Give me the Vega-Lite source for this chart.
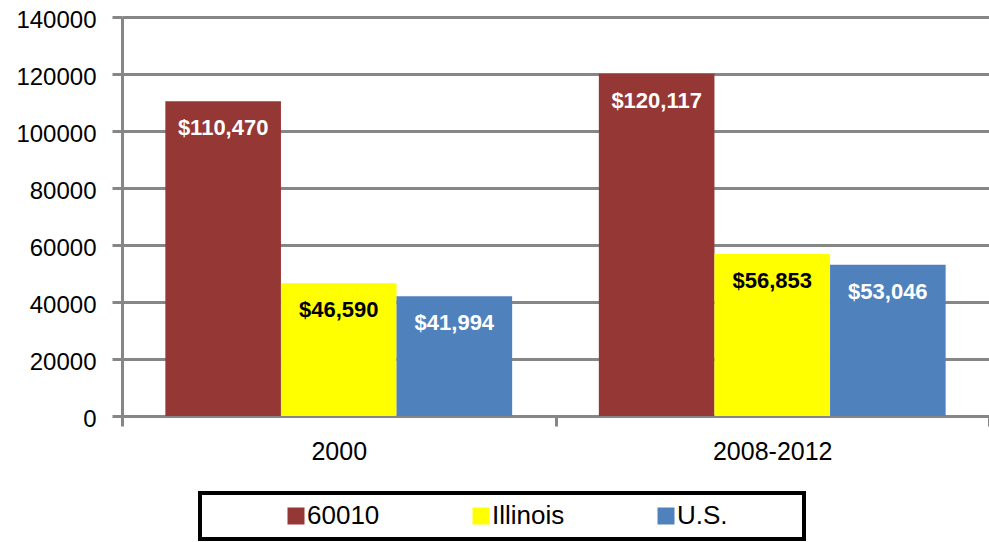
{
  "$schema": "https://vega.github.io/schema/vega-lite/v6.json",
  "width": 867,
  "height": 399,
  "autosize": {"type": "none"},
  "padding": {"left": 122, "top": 17, "right": 0, "bottom": 126},
  "background": "white",
  "config": {"font": "Liberation Sans", "view": {"stroke": null}},
  "data": {
    "values": [
      {"period": "2000", "region": "60010", "income": 110470},
      {"period": "2000", "region": "Illinois", "income": 46590},
      {"period": "2000", "region": "U.S.", "income": 41994},
      {"period": "2008-2012", "region": "60010", "income": 120117},
      {"period": "2008-2012", "region": "Illinois", "income": 56853},
      {"period": "2008-2012", "region": "U.S.", "income": 53046}
    ]
  },
  "encoding": {
    "x": {
      "field": "period",
      "type": "nominal",
      "sort": ["2000", "2008-2012"],
      "scale": {"paddingInner": 0, "paddingOuter": 0},
      "axis": {
        "title": null,
        "labelAngle": 0,
        "labelFontSize": 25,
        "labelColor": "black",
        "labelPadding": 13,
        "tickBand": "extent",
        "tickSize": 10,
        "tickWidth": 3,
        "tickColor": "#868686",
        "domainColor": "#868686",
        "domainWidth": 3,
        "grid": false
      }
    },
    "xOffset": {
      "field": "region",
      "type": "nominal",
      "sort": ["60010", "Illinois", "U.S."],
      "scale": {"paddingInner": 0, "paddingOuter": 0.375}
    },
    "y": {
      "field": "income",
      "type": "quantitative",
      "scale": {"domain": [0, 140000], "nice": false},
      "axis": {
        "title": null,
        "values": [0, 20000, 40000, 60000, 80000, 100000, 120000, 140000],
        "format": "d",
        "labelFontSize": 24,
        "labelColor": "black",
        "labelPadding": 16,
        "labelOffset": 3,
        "tickSize": 10,
        "tickWidth": 3,
        "tickColor": "#868686",
        "gridColor": "#868686",
        "gridWidth": 3,
        "domainColor": "#868686",
        "domainWidth": 3
      }
    }
  },
  "layer": [
    {
      "mark": {"type": "bar"},
      "encoding": {
        "color": {
          "field": "region",
          "type": "nominal",
          "sort": ["60010", "Illinois", "U.S."],
          "scale": {"domain": ["60010", "Illinois", "U.S."], "range": ["#953735", "#FFFF00", "#4F81BD"]},
          "legend": {
            "orient": "none",
            "legendX": 78,
            "legendY": 476,
            "direction": "horizontal",
            "title": "\u00a0",
            "titleOrient": "right",
            "titleFontSize": 1,
            "titlePadding": 66,
            "strokeColor": "black",
            "padding": 10,
            "labelFontSize": 26,
            "labelColor": "black",
            "symbolType": "square",
            "symbolSize": 289,
            "symbolStrokeWidth": 0,
            "symbolOpacity": 1,
            "symbolOffset": 73,
            "labelOffset": -2,
            "columnPadding": 15,
            "encode": {"legend": {"update": {"strokeWidth": {"value": 4}}}}
          }
        }
      }
    },
    {
      "mark": {"type": "text", "dy": 27, "baseline": "middle", "fontWeight": "bold", "fontSize": 22},
      "encoding": {
        "text": {"field": "income", "type": "quantitative", "format": "$,d"},
        "color": {"condition": {"test": "datum.region === 'Illinois'", "value": "black"}, "value": "white"}
      }
    }
  ]
}
